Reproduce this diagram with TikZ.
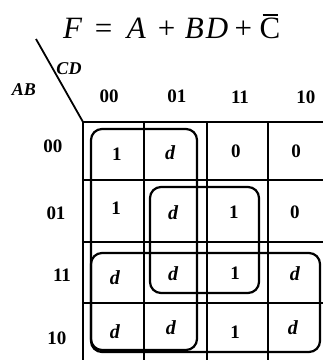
\documentclass[tikz,border=0pt]{standalone}
\usepackage{fontspec}
\setmainfont{Liberation Serif}
\newcommand{\cbarred}{\leavevmode\rlap{\hspace{3pt}\rule[22.5pt]{15pt}{1.6pt}}C}
\begin{document}
\begin{tikzpicture}[x=1pt,y=-1pt,
  gridline/.style={line width=2.6pt},
  loopline/.style={line width=2.2pt, rounded corners=11pt},
  val/.style={font=\fontsize{19}{21}\selectfont\bfseries},
  dval/.style={font=\fontsize{20}{22}\selectfont\bfseries\itshape},
  lab/.style={font=\fontsize{19}{21}\selectfont\bfseries},
  varlab/.style={font=\fontsize{18}{20}\selectfont\bfseries\itshape}]
\useasboundingbox (0,0) rectangle (323,360);
\clip (0,0) rectangle (323,360);
% title
\node[anchor=base west, inner sep=0pt] (title) at (63,38) {\fontsize{31}{33}\selectfont
  \textit{F}\hspace{12.5pt}=\hspace{14.5pt}\textit{A}\hspace{12pt}+\hspace{9.5pt}\textit{B\hspace{2pt}D}\hspace{6.5pt}+\hspace{7.5pt}\cbarred};
% corner label
\coordinate (diagtop) at (36,39);
\coordinate (corner) at (83,122);
\draw[line width=1.8pt] (diagtop) -- (corner);
\node[varlab] (cd) at (69,69) {CD};
\node[varlab] (ab) at (24,90) {AB};
% column labels
\node[lab] (c0) at (109,96) {00};
\node[lab] (c1) at (177,96) {01};
\node[lab] (c2) at (240,97) {11};
\node[lab] (c3) at (306,97) {10};
% row labels
\node[lab] (r0) at (53,146) {00};
\node[lab] (r1) at (56,213) {01};
\node[lab] (r2) at (62,275) {11};
\node[lab] (r3) at (57,338) {10};
% grid
\foreach \x in {83,144,207,268,329} \draw[gridline] (\x,121) -- (\x,365);
\foreach \y in {122,180,242,303,362} \draw[gridline] (82,\y) -- (335,\y);
% cells
\node[val]  (v00) at (117,154) {1};
\node[dval] (v01) at (170,153) {d};
\node[val]  (v02) at (236,151) {0};
\node[val]  (v03) at (296,151) {0};
\node[val]  (v10) at (116,208) {1};
\node[dval] (v11) at (173,213) {d};
\node[val]  (v12) at (234,212) {1};
\node[val]  (v13) at (295,212) {0};
\node[dval] (v20) at (115,278) {d};
\node[dval] (v21) at (173,274) {d};
\node[val]  (v22) at (235,273) {1};
\node[dval] (v23) at (295,274) {d};
\node[dval] (v30) at (115,332) {d};
\node[dval] (v31) at (171,328) {d};
\node[val]  (v32) at (235,332) {1};
\node[dval] (v33) at (293,328) {d};
% loops
\draw[loopline] (91,129) rectangle (197,350);
\draw[loopline] (150,187) rectangle (259,293);
\draw[loopline] (91,253) rectangle (320,352);
\end{tikzpicture}
\end{document}
